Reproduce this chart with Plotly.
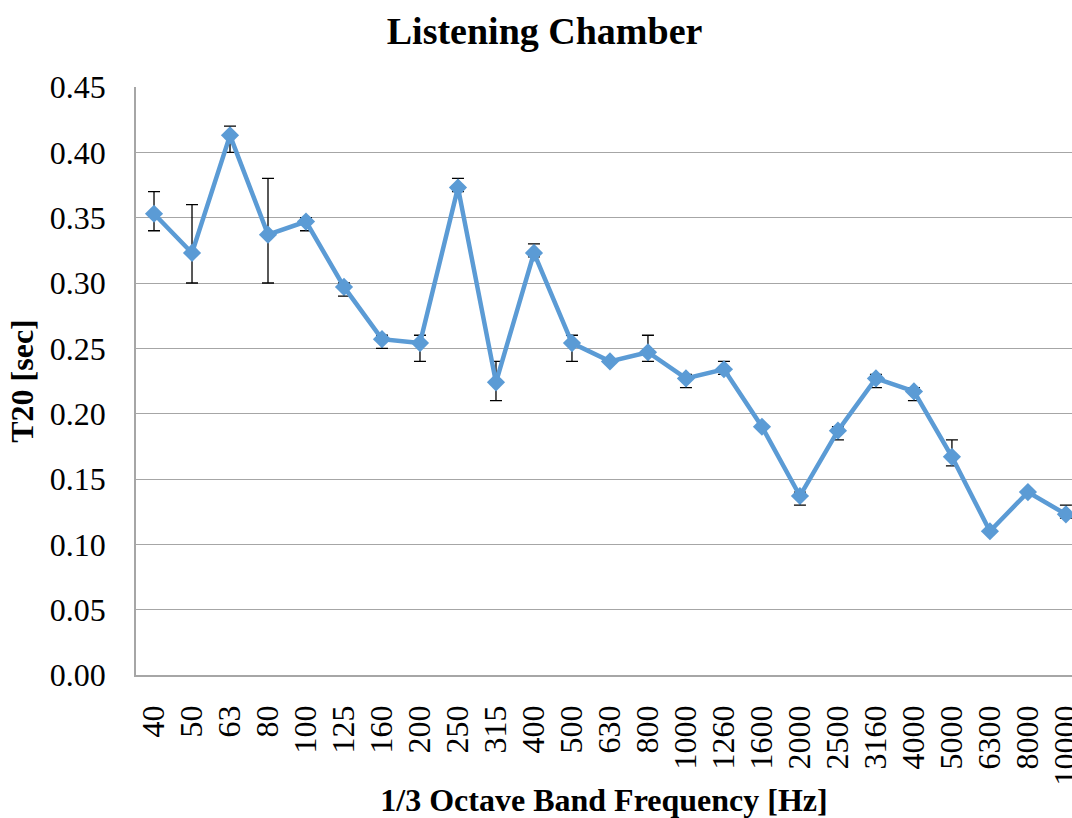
import plotly.graph_objects as go

# 1/3 octave band centre frequencies
bands = ["40", "50", "63", "80", "100", "125", "160", "200", "250", "315",
         "400", "500", "630", "800", "1000", "1260", "1600", "2000", "2500",
         "3160", "4000", "5000", "6300", "8000", "10000"]

# Mean T20 per band [s]
t20 = [0.353, 0.323, 0.413, 0.337, 0.347, 0.297, 0.257, 0.254, 0.373, 0.224,
       0.323, 0.254, 0.240, 0.247, 0.227, 0.234, 0.190, 0.137, 0.187,
       0.227, 0.217, 0.167, 0.110, 0.140, 0.123]

# Spread of measured values (max / min) per band [s]
t20_max = [0.37, 0.36, 0.42, 0.38, 0.35, 0.30, 0.26, 0.26, 0.38, 0.24,
           0.33, 0.26, 0.24, 0.26, 0.23, 0.24, 0.19, 0.14, 0.19,
           0.23, 0.22, 0.18, 0.11, 0.14, 0.13]
t20_min = [0.34, 0.30, 0.40, 0.30, 0.34, 0.29, 0.25, 0.24, 0.37, 0.21,
           0.32, 0.24, 0.24, 0.24, 0.22, 0.23, 0.19, 0.13, 0.18,
           0.22, 0.21, 0.16, 0.11, 0.14, 0.12]

err_plus = [hi - m for hi, m in zip(t20_max, t20)]
err_minus = [m - lo for lo, m in zip(t20_min, t20)]

BLUE = "#5B9BD5"
GRID = "#A6A6A6"
FONT = "Liberation Serif"

fig = go.Figure()
fig.add_trace(go.Scatter(
    x=list(range(len(bands))),
    y=t20,
    mode="lines+markers",
    line=dict(color=BLUE, width=4.5),
    marker=dict(symbol="diamond", size=14, color=BLUE),
    error_y=dict(type="data", symmetric=False, array=err_plus,
                 arrayminus=err_minus, color="black", thickness=1.3, width=6),
    showlegend=False,
))

fig.update_layout(
    width=1072, height=818,
    margin=dict(l=136, r=0, t=87, b=143),
    paper_bgcolor="white", plot_bgcolor="white",
    font=dict(family=FONT, color="black", size=32),
    title=dict(text="<b>Listening Chamber</b>", x=0.508, xanchor="center",
               y=0.962, yanchor="middle", font=dict(size=38, family=FONT)),
    xaxis=dict(
        range=[-0.474, 24.16],
        tickmode="array",
        tickvals=list(range(len(bands))),
        ticktext=bands,
        tickangle=-90,
        ticks="", showgrid=False, zeroline=False,
        showline=True, linecolor=GRID, linewidth=1.5,
        ticklabelstandoff=16,
        ticklabeloverflow="allow",
        automargin=False,
        tickfont=dict(size=32, family=FONT),
        title=dict(text="<b>1/3 Octave Band Frequency [Hz]</b>",
                   font=dict(size=32, family=FONT), standoff=6),
    ),
    yaxis=dict(
        range=[0, 0.45],
        tickmode="array",
        tickvals=[i * 0.05 for i in range(10)],
        ticktext=[f"{i * 0.05:.2f}" for i in range(10)],
        ticks="", showgrid=True, gridcolor=GRID, gridwidth=1.3,
        zeroline=False, showline=True, linecolor=GRID, linewidth=1.5,
        mirror=False,
        automargin=False,
        ticklabelstandoff=22,
        tickfont=dict(size=32, family=FONT),
        title=dict(text="<b>T20 [sec]</b>",
                   font=dict(size=32, family=FONT), standoff=7),
    ),
)

fig.write_html("out.html")
